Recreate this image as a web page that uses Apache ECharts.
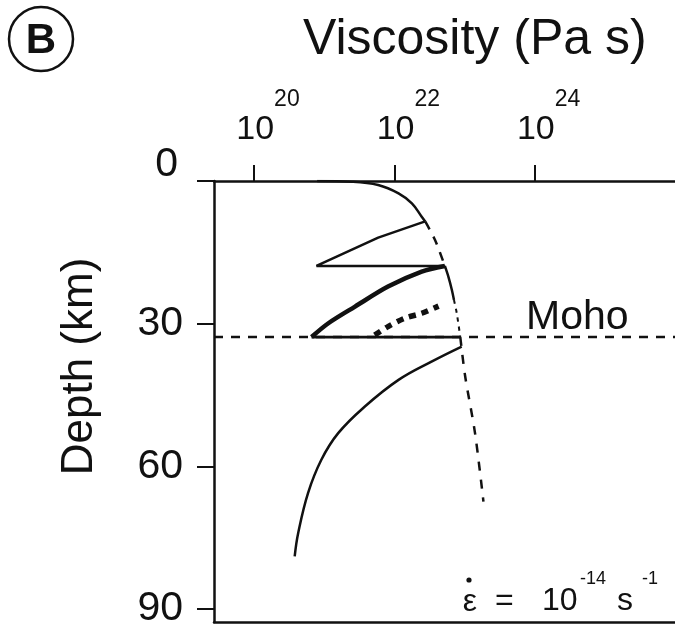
<!DOCTYPE html>
<html>
<head>
<meta charset="utf-8">
<script src="https://cdn.jsdelivr.net/npm/echarts@6/dist/echarts.min.js"></script>
<style>html,body{margin:0;padding:0;background:#fff}#c{width:675px;height:628px}</style>
</head>
<body>
<div id="c"></div>
<script>
// Tick labels
const viscosityExponentTicks = [20, 22, 24];
const depthTicks = [0, 30, 60, 90];
// Axis extents (log10 viscosity, depth km)
const xExtent = [19.43, 26.0];
const depthExtent = [0, 92.7];
const mohoDepth = 32.8;

// Curves: [log10(viscosity Pa s), depth km]
const upperCurve = [[20.9, 0], [21.4, 0.15], [21.77, 0.84], [22.06, 2.6], [22.25, 4.7], [22.39, 7.5], [22.44, 8.5]];
const zigzagUpper = [[22.44, 8.5], [21.77, 11.9], [20.89, 17.86], [22.72, 17.86]];
const thickCurve = [[22.72, 17.86], [22.39, 19.05], [21.91, 22.2], [21.44, 26.4], [21.06, 29.9], [20.82, 32.8]];
const mohoSolid = [[20.82, 32.8], [22.94, 32.8]];
const envelopeDashed = [[22.44, 8.5], [22.58, 12.4], [22.72, 17.86]];
const envelopeSolid = [[22.72, 17.86], [22.77, 20.1], [22.82, 22.9], [22.85, 25]];
const envelopeDotted = [[22.85, 25], [22.89, 27.8], [22.94, 32.8]];
const thickDotted = [[21.72, 32.4], [21.91, 30.6], [22.15, 28.85], [22.39, 27.8], [22.63, 26.3]];
const lowerCurve = [[22.96, 34.8], [22.53, 37.96], [22.06, 41.8], [21.58, 47.4], [21.2, 53], [20.96, 58.6], [20.77, 65.6], [20.63, 74], [20.58, 78.9]];
const lowerDashed = [[22.94, 32.8], [23.01, 41.1], [23.15, 53], [23.27, 67.4]];
const mohoLine = [[xExtent[0], mohoDepth], [xExtent[1], mohoDepth]];

const INK = '#111';
const FONT = "'Liberation Sans', Arial, Helvetica, sans-serif";

function ln(data, width, type, smooth) {
  return {
    type: 'line', data: data, xAxisIndex: 0, yAxisIndex: 0,
    symbol: 'none', showSymbol: false, smooth: smooth || false, silent: true,
    lineStyle: { color: INK, width: width, type: type || 'solid', cap: 'butt' }
  };
}
function txt(x, y, s, size, align) {
  return { type: 'text', x: x, y: y, silent: true,
    style: { text: s, font: 'normal ' + size + 'px ' + FONT, fill: INK, align: align || 'left', verticalAlign: 'middle' } };
}

const chart = echarts.init(document.getElementById('c'), null, { renderer: 'canvas' });
chart.setOption({
  animation: false,
  backgroundColor: '#fff',
  title: {
    text: 'Viscosity (Pa s)', left: 298, top: 10,
    textStyle: { fontFamily: FONT, fontSize: 50, fontWeight: 'normal', color: INK }
  },
  grid: { left: 214, right: 0, top: 181, bottom: 6, outerBoundsMode: 'none', containLabel: false },
  xAxis: [{
    type: 'value', position: 'top', min: xExtent[0], max: xExtent[1],
    splitLine: { show: false },
    axisLine: { show: true, lineStyle: { color: INK, width: 2.5 } },
    axisTick: { show: true, inside: false, length: 16, customValues: viscosityExponentTicks, lineStyle: { color: INK, width: 2 } },
    axisLabel: {
      show: true, margin: 34, customValues: viscosityExponentTicks,
      formatter: function (v) { return '{b|10}{e|' + v + '}'; },
      rich: {
        b: { fontFamily: FONT, fontSize: 34, color: INK, verticalAlign: 'bottom', padding: [0, 0, 0, 28] },
        e: { fontFamily: FONT, fontSize: 23, color: INK, verticalAlign: 'bottom', padding: [0, 0, 36, 0] }
      }
    }
  }, {
    type: 'value', position: 'bottom', min: xExtent[0], max: xExtent[1],
    splitLine: { show: false },
    axisLine: { show: true, lineStyle: { color: INK, width: 2.5 } },
    axisTick: { show: false }, axisLabel: { show: false }
  }],
  yAxis: {
    type: 'value', inverse: true, min: depthExtent[0], max: depthExtent[1],
    splitLine: { show: false },
    name: 'Depth (km)', nameLocation: 'middle', nameRotate: 90, nameGap: 112,
    nameTextStyle: { fontFamily: FONT, fontSize: 44, color: INK, padding: [0, 0, 0, 70] },
    axisLine: { show: true, lineStyle: { color: INK, width: 2.5 } },
    axisTick: { show: true, inside: false, length: 17, customValues: depthTicks, lineStyle: { color: INK, width: 2 } },
    axisLabel: {
      show: true, margin: 31, customValues: depthTicks,
      formatter: function (v) { return v === 0 ? '{z|0}' : '{n|' + v + '}'; },
      rich: {
        n: { fontFamily: FONT, fontSize: 41, color: INK },
        z: { fontFamily: FONT, fontSize: 41, color: INK, padding: [0, 5, 32, 0] }
      }
    }
  },
  series: [
    ln(mohoLine, 2.5, [9, 8]),
    ln(upperCurve, 2.5, 'solid', 0.4),
    ln(zigzagUpper, 2.5),
    ln(thickCurve, 4.5, 'solid', 0.3),
    ln(mohoSolid, 2.8),
    ln(envelopeDashed, 2.5, [9, 8], 0.3),
    ln(envelopeSolid, 2.5, 'solid', 0.3),
    ln(envelopeDotted, 2, [4, 5], 0.3),
    ln(thickDotted, 5.5, [7, 6], 0.3),
    ln(lowerCurve, 2.5, 'solid', 0.4),
    ln(lowerDashed, 2.5, [9, 9], 0.3)
  ],
  graphic: [
    { type: 'circle', shape: { cx: 41, cy: 39, r: 32 }, style: { fill: 'none', stroke: INK, lineWidth: 2.5 }, silent: true },
    { type: 'text', x: 41, y: 41, silent: true, style: { text: 'B', font: 'bold 42px ' + FONT, fill: INK, align: 'center', verticalAlign: 'middle' } },
    txt(526, 318, 'Moho', 41),
    txt(470, 602, 'ε', 32, 'center'),
    { type: 'circle', shape: { cx: 469, cy: 580, r: 2.6 }, style: { fill: INK }, silent: true },
    txt(495, 601, '=', 32),
    txt(542, 601, '10', 32),
    txt(580, 579, '-14', 18),
    txt(617, 601, 's', 32),
    txt(642, 579, '-1', 18)
  ]
});
</script>
</body>
</html>
